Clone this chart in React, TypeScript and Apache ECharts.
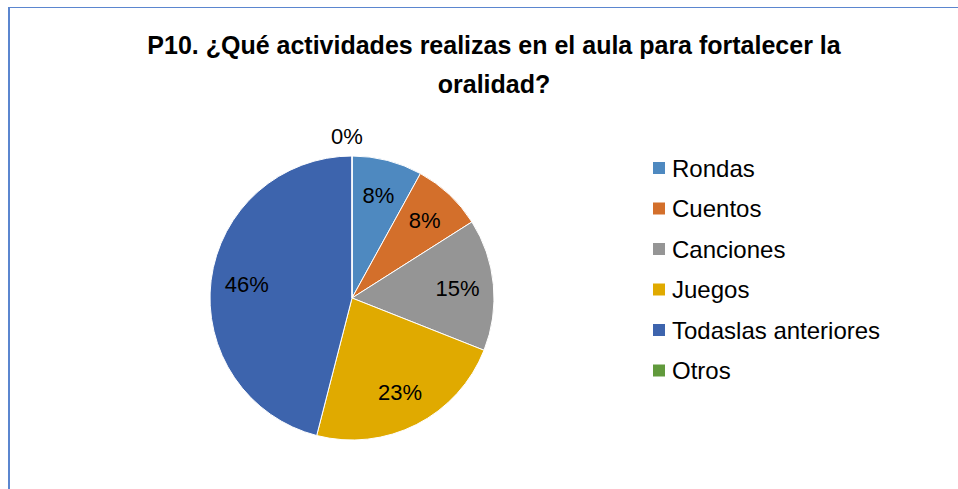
import React, { useEffect, useRef } from "react";
import * as echarts from "echarts";

const titleLines = [
  "P10. ¿Qué actividades realizas en el aula para fortalecer la",
  "oralidad?",
];
const categories = [
  "Rondas",
  "Cuentos",
  "Canciones",
  "Juegos",
  "Todaslas anteriores",
  "Otros",
];
const percentValues = [8, 8, 15, 23, 46, 0];
const colors = ["#4E89C0", "#D36F2B", "#959595", "#E0AA00", "#3D64AD", "#619A3C"];

const FONT = "'Liberation Sans', Arial, sans-serif";

export default function App() {
  const ref = useRef<HTMLDivElement>(null);
  useEffect(() => {
    if (!ref.current) return;
    const chart = echarts.init(ref.current, undefined, { renderer: "svg" });
    const mainData = categories.map((name, i) => ({
      name,
      value: percentValues[i],
      itemStyle: { color: colors[i] },
      label:
        percentValues[i] === 0
          ? { show: true, position: "outside" as const }
          : { show: false },
    }));
    const overlayData = categories.map((name, i) => ({
      name,
      value: percentValues[i],
      label: { show: percentValues[i] !== 0 },
    }));
    chart.setOption({
      animation: false,
      backgroundColor: "#ffffff",
      title: {
        text: titleLines.join("\n"),
        left: 489,
        textAlign: "center",
        top: 20,
        textStyle: {
          fontFamily: FONT,
          fontWeight: "bold",
          fontSize: 25,
          lineHeight: 39,
          color: "#000000",
        },
      },
      legend: {
        orient: "vertical",
        left: 646,
        top: 150,
        icon: "rect",
        itemWidth: 14,
        itemHeight: 14,
        itemGap: 14.5,
        data: categories,
        selectedMode: false,
        textStyle: {
          fontFamily: FONT,
          fontSize: 24,
          lineHeight: 26,
          color: "#000000",
          padding: [0, 0, 0, 1],
        },
      },
      graphic: [
        {
          type: "line",
          shape: { x1: 9, y1: 7, x2: 9, y2: 489 },
          style: { stroke: "#5B86CF", lineWidth: 2 },
        },
        {
          type: "line",
          shape: { x1: 8, y1: 7.5, x2: 958, y2: 7.5 },
          style: { stroke: "#5B86CF", lineWidth: 1 },
        },
      ],
      series: [
        {
          type: "pie",
          center: [352, 298],
          radius: [0, 142],
          startAngle: 90,
          clockwise: true,
          data: mainData,
          itemStyle: { borderColor: "#ffffff", borderWidth: 1 },
          label: {
            formatter: "{d}%",
            fontFamily: FONT,
            fontSize: 22,
            color: "#000000",
          },
          labelLine: { show: false, length: 20, length2: 0 },
          labelLayout: { align: "center" },
          emphasis: { disabled: true },
        },
        {
          type: "pie",
          center: [352, 298],
          radius: [64, 142],
          startAngle: 90,
          clockwise: true,
          silent: true,
          data: overlayData,
          itemStyle: { color: "rgba(0,0,0,0)" },
          label: {
            position: "inside",
            formatter: "{d}%",
            fontFamily: FONT,
            fontSize: 22,
            color: "#000000",
          },
          labelLine: { show: false },
          emphasis: { disabled: true },
        },
      ],
    });
    return () => chart.dispose();
  }, []);
  return (
    <div
      ref={ref}
      style={{ position: "fixed", left: 0, top: 0, width: 958, height: 489 }}
    />
  );
}
